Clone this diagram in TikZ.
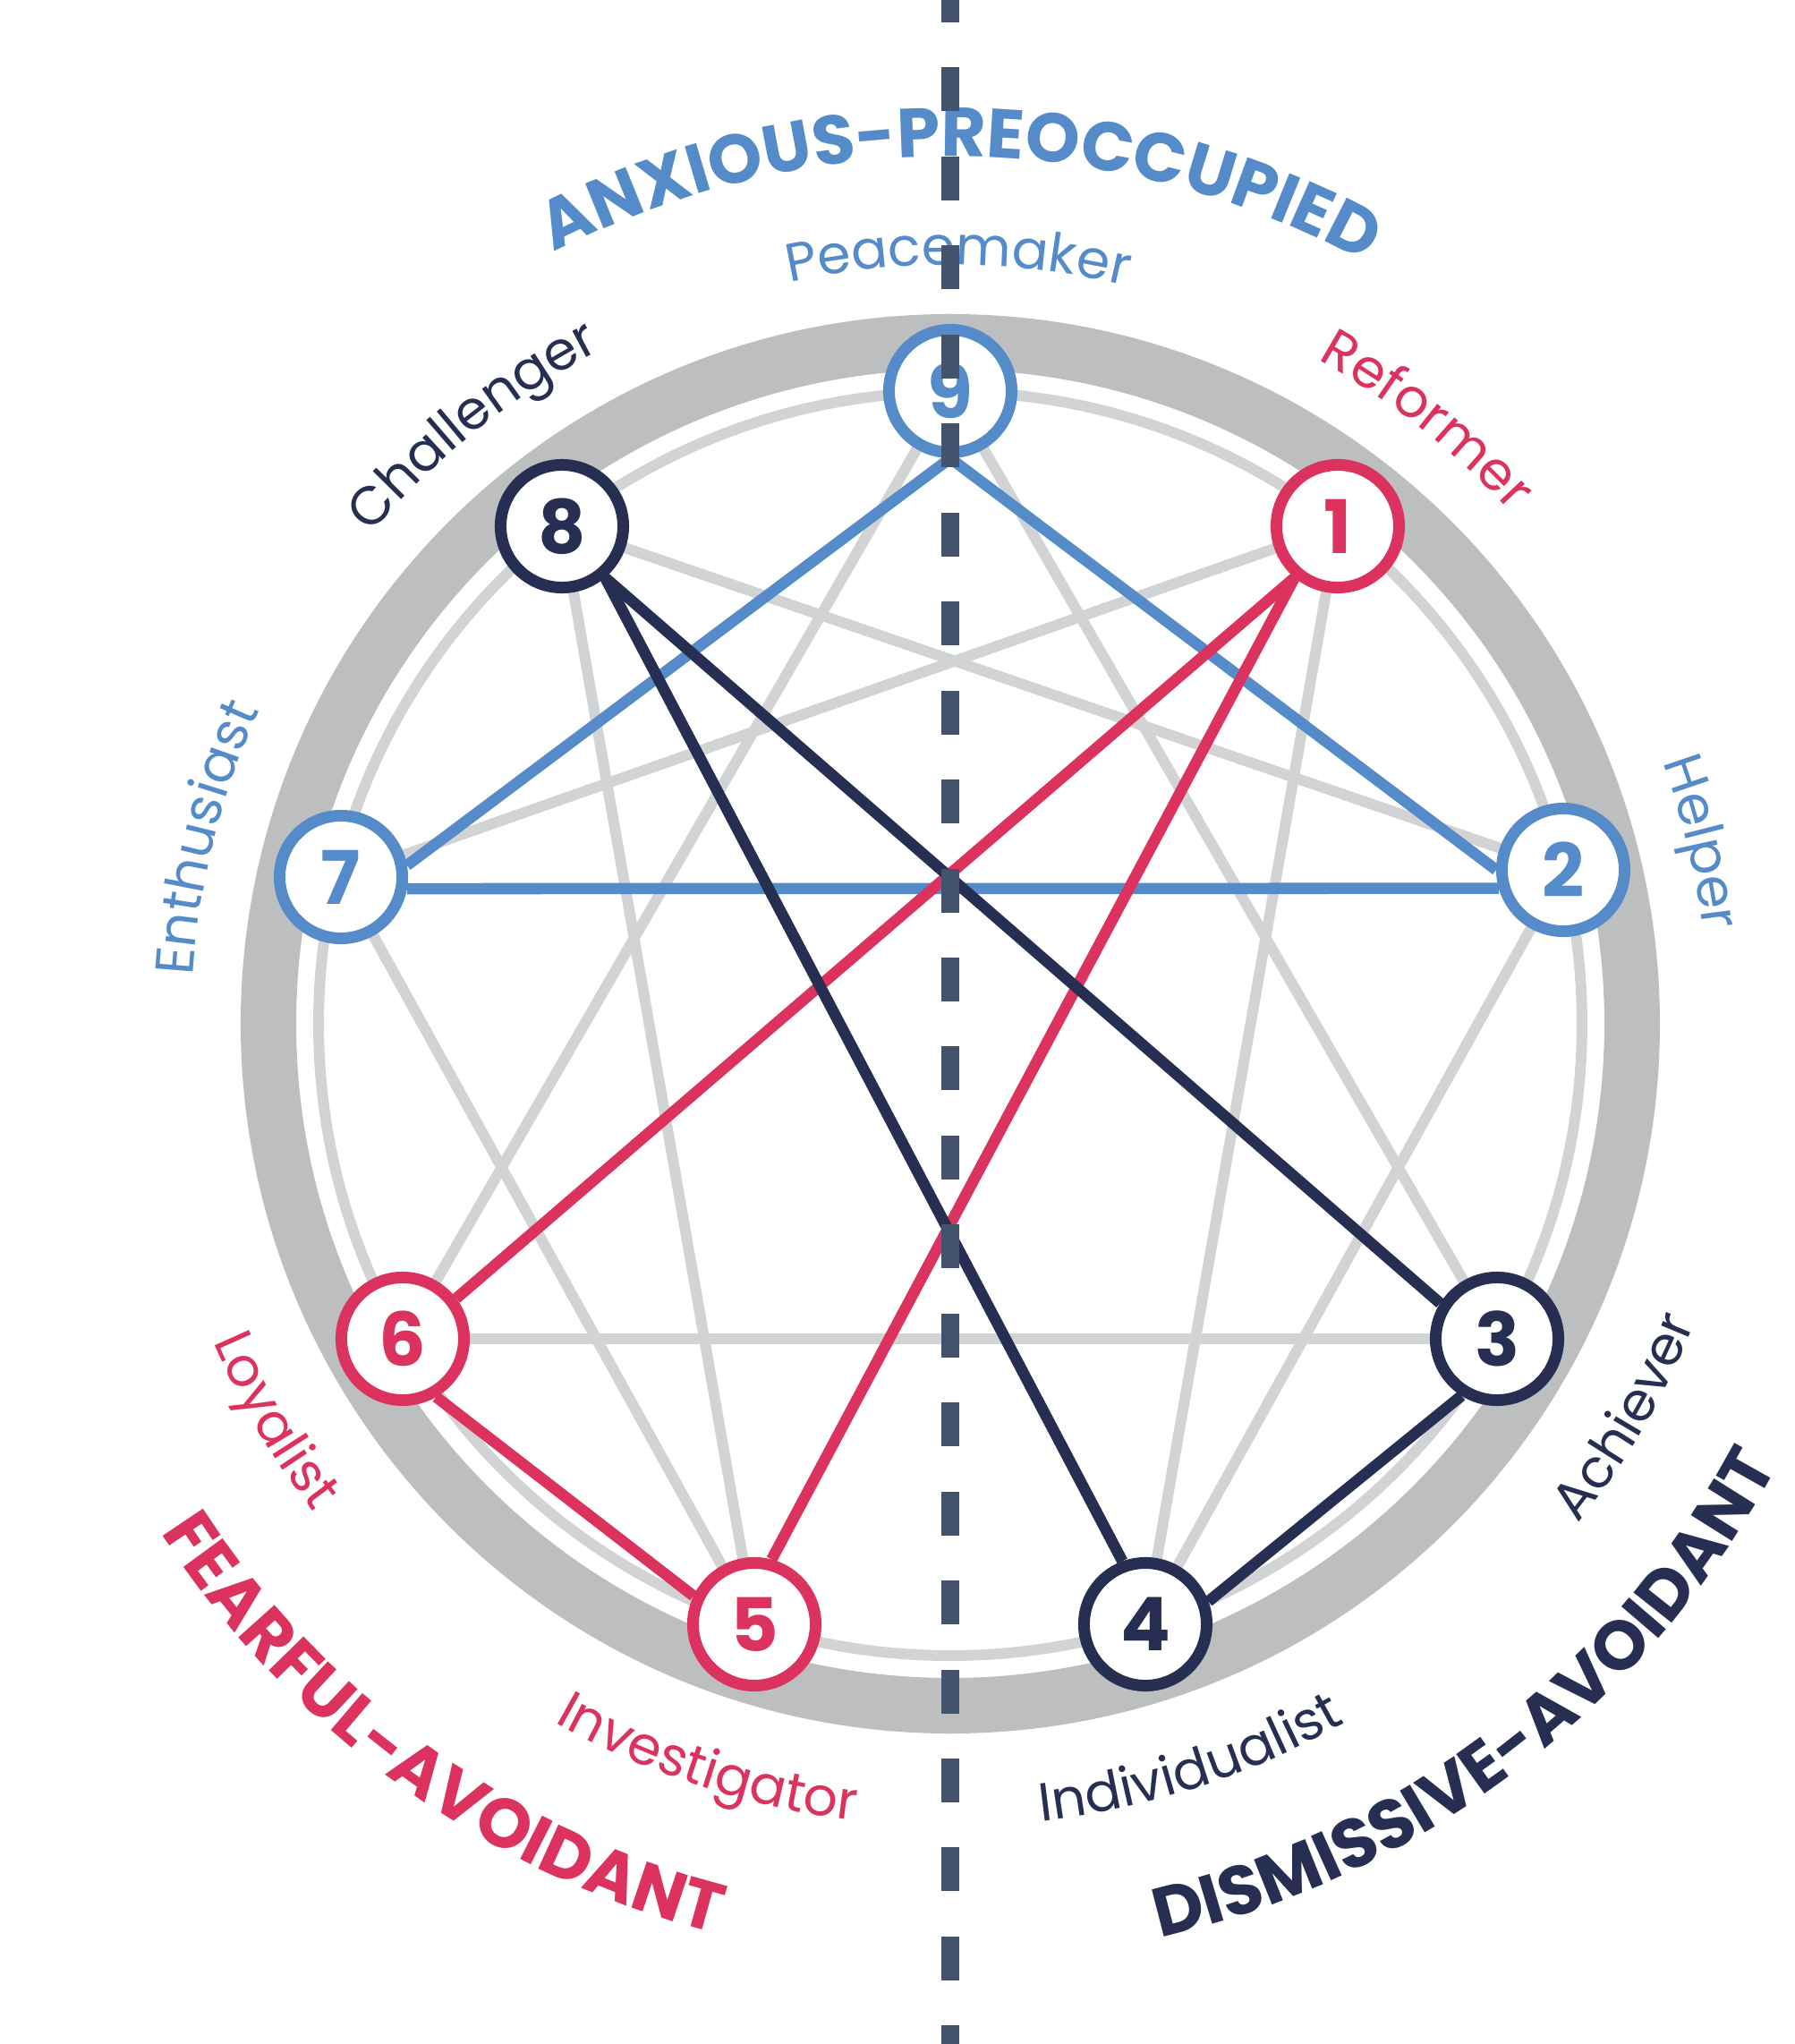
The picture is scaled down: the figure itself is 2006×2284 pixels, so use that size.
\documentclass[tikz,border=0pt]{standalone}
\usepackage{fontspec}
\setmainfont{Poppins}
\usepackage{xcolor}
\definecolor{colBlue}{RGB}{86,139,201}
\definecolor{colRed}{RGB}{219,50,94}
\definecolor{colNavy}{RGB}{38,47,81}
\definecolor{colDash}{RGB}{67,83,107}
\definecolor{colRing}{RGB}{188,190,192}
\definecolor{colThin}{RGB}{209,211,212}
\usetikzlibrary{backgrounds, decorations.text}
\newcommand{\lblfont}{\fontsize{17.1}{20}\selectfont}
\newcommand{\hdfont}{\fontsize{22}{24}\selectfont\bfseries}
\newcommand{\digitfont}{\fontsize{23.5}{23.5}\selectfont\bfseries}
\newcommand{\ringtextcw}[5]{\path[decorate, decoration={text along path, text align=center, text color=#3, text={|#4|#5}}] ({#1+50}:#2) arc[start angle={#1+50}, end angle={#1-50}, radius=#2];}
\newcommand{\ringtextccw}[5]{\path[decorate, decoration={text along path, text align=center, text color=#3, text={|#4|#5}}] ({#1-50}:#2) arc[start angle={#1-50}, end angle={#1+50}, radius=#2];}
\tikzset{
  enode/.style={circle, draw=#1, fill=white, text=#1, line width=3.7pt, minimum size=1.37cm, inner sep=0pt, font=\digitfont},
  tie/.style={draw=#1, line width=3.56pt},
  grayline/.style={draw=colThin, line width=3.41pt},
  ring/.style={draw=colRing, line width=17.64pt},
  thinring/.style={draw=colThin, line width=3.41pt},
  dashcut/.style={draw=colDash, line width=5.69pt, dash pattern=on 13.94pt off 14.34pt}
}

\begin{document}
\begin{tikzpicture}[x=0.01cm, y=0.01cm]
\useasboundingbox (-1062,-1140) rectangle (944,1144);
\node[enode=colBlue] (n9) at (0,707) {9};
\node[enode=colRed] (n1) at (433,556) {1};
\node[enode=colBlue] (n2) at (685,172) {2};
\node[enode=colNavy] (n3) at (611,-352) {3};
\node[enode=colNavy] (n4) at (218,-671) {4};
\node[enode=colRed] (n5) at (-219,-671) {5};
\node[enode=colRed] (n6) at (-612,-352) {6};
\node[enode=colBlue] (n7) at (-681,164) {7};
\node[enode=colNavy] (n8) at (-434,556) {8};
\begin{pgfonlayer}{background}
\draw[ring] (0,0) circle[radius=762];
\draw[thinring] (0,0) circle[radius=706];
\foreach \a/\b in {9/3,9/6,3/6,1/4,4/2,2/8,8/5,5/7,7/1}
  \draw[grayline] (n\a.center) -- (n\b.center);
\draw[tie=colBlue] (n9.-90) -- (n7.10);
\draw[tie=colBlue] (n9.-90) -- (n2.180);
\draw[tie=colBlue] (n7.-10) -- (n2.196);
\draw[tie=colRed] (n1.230) -- (n6.37);
\draw[tie=colRed] (n1.230) -- (n5.75);
\draw[tie=colRed] (n6.-60) -- (n5.155);
\draw[tie=colNavy] (n8.-50) -- (n3.148);
\draw[tie=colNavy] (n8.-50) -- (n4.110);
\draw[tie=colNavy] (n3.238) -- (n4.20);
\end{pgfonlayer}
% type names round the ring
\ringtextcw{89.4}{848}{colBlue}{\lblfont}{Peacemaker}
\ringtextcw{51.7}{848}{colRed}{\lblfont}{Reformer}
\ringtextcw{13.6}{848}{colBlue}{\lblfont}{Helper}
\ringtextccw{-30.2}{897}{colNavy}{\lblfont}{Achiever}
\ringtextccw{-72}{897}{colNavy}{\lblfont}{Individualist}
\ringtextccw{-108.2}{897}{colRed}{\lblfont}{Investigator}
\ringtextccw{-149.6}{897}{colRed}{\lblfont}{Loyalist}
\ringtextcw{166}{848}{colBlue}{\lblfont}{Enthusiast}
\ringtextcw{128.6}{848}{colNavy}{\lblfont}{Challenger}
% attachment styles
\ringtextcw{89.3}{969}{colBlue}{\hdfont}{ANXIOUS-PREOCCUPIED}
\ringtextccw{-125.8}{1050}{colRed}{\hdfont}{FEARFUL-AVOIDANT}
\ringtextccw{-52.6}{1048}{colNavy}{\hdfont}{DISMISSIVE-AVOIDANT}
\draw[dashcut] (0,1168) -- (0,-1165);
\end{tikzpicture}
\end{document}
